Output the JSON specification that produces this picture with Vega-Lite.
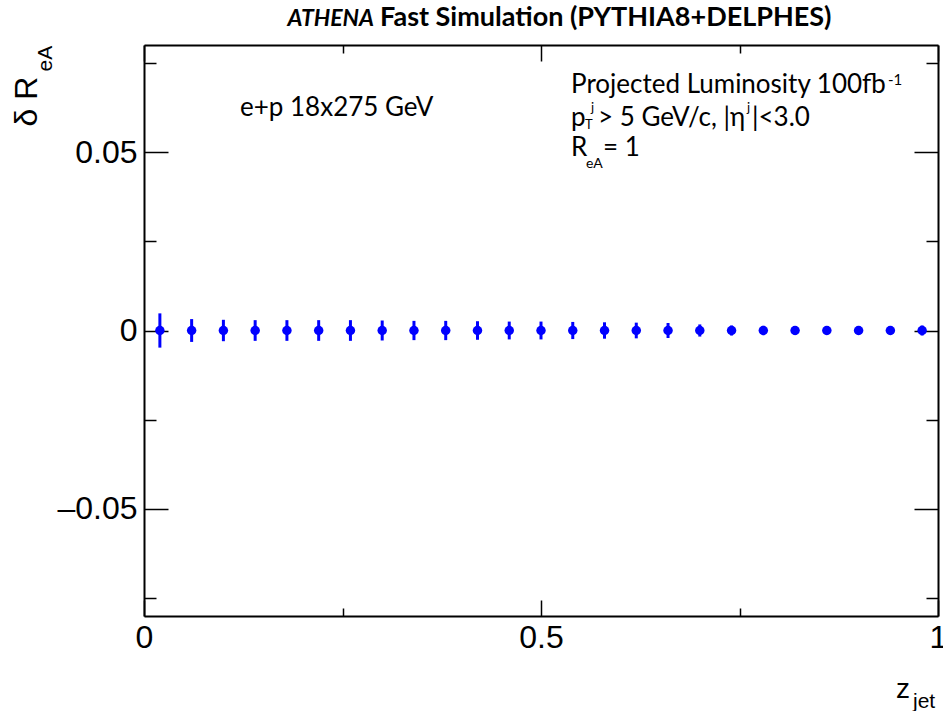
{
  "$schema": "https://vega.github.io/schema/vega-lite/v6.json",
  "width": 794,
  "height": 571,
  "autosize": "none",
  "padding": {"left": 144, "top": 45, "right": 5, "bottom": 95},
  "background": "white",
  "config": {
    "view": {"stroke": null},
    "axis": {
      "domainColor": "black",
      "domainWidth": 2,
      "tickColor": "black",
      "tickWidth": 1.5,
      "grid": false,
      "labelFont": "Liberation Sans",
      "labelFontSize": 32,
      "labelColor": "black",
      "labelFlush": false,
      "labelOverlap": false,
      "title": null,
      "zindex": 1
    }
  },
  "datasets": {
    "pts": [
      {"z": 0.02, "dR": 0, "err": 0.0048},
      {"z": 0.06, "dR": 0, "err": 0.0032},
      {"z": 0.10, "dR": 0, "err": 0.0030},
      {"z": 0.14, "dR": 0, "err": 0.0029},
      {"z": 0.18, "dR": 0, "err": 0.0029},
      {"z": 0.22, "dR": 0, "err": 0.0029},
      {"z": 0.26, "dR": 0, "err": 0.0029},
      {"z": 0.30, "dR": 0, "err": 0.0028},
      {"z": 0.34, "dR": 0, "err": 0.0027},
      {"z": 0.38, "dR": 0, "err": 0.0027},
      {"z": 0.42, "dR": 0, "err": 0.0026},
      {"z": 0.46, "dR": 0, "err": 0.0025},
      {"z": 0.50, "dR": 0, "err": 0.0025},
      {"z": 0.54, "dR": 0, "err": 0.0024},
      {"z": 0.58, "dR": 0, "err": 0.0023},
      {"z": 0.62, "dR": 0, "err": 0.0022},
      {"z": 0.66, "dR": 0, "err": 0.0021},
      {"z": 0.70, "dR": 0, "err": 0.0017},
      {"z": 0.74, "dR": 0, "err": 0.0014},
      {"z": 0.78, "dR": 0, "err": 0.0013},
      {"z": 0.82, "dR": 0, "err": 0.0012},
      {"z": 0.86, "dR": 0, "err": 0.0011},
      {"z": 0.90, "dR": 0, "err": 0.0011},
      {"z": 0.94, "dR": 0, "err": 0.0011},
      {"z": 0.98, "dR": 0, "err": 0.0014}
    ]
  },
  "resolve": {"axis": {"x": "independent", "y": "independent"}},
  "layer": [
    {
      "data": {"name": "pts"},
      "mark": {"type": "errorbar", "rule": {"stroke": "#0000ff", "strokeWidth": 3}},
      "encoding": {
        "x": {"field": "z", "type": "quantitative", "scale": {"domain": [0, 1], "nice": false, "zero": false},
          "axis": {"orient": "top", "values": [0, 0.25, 0.5, 0.75, 1], "labels": false,
            "tickSize": {"condition": {"test": "abs(datum.value*2 - round(datum.value*2)) < 0.001", "value": -16}, "value": -8}}},
        "y": {"field": "dR", "type": "quantitative", "scale": {"domain": [-0.08, 0.08], "nice": false, "zero": false},
          "axis": {"orient": "right", "values": [-0.075, -0.05, -0.025, 0, 0.025, 0.05, 0.075], "labels": false,
            "tickSize": {"condition": {"test": "abs(datum.value*20 - round(datum.value*20)) < 0.001", "value": -24}, "value": -12}}},
        "yError": {"field": "err"}
      }
    },
    {
      "data": {"name": "pts"},
      "mark": {"type": "point", "filled": true, "color": "#0000ff", "size": 90, "opacity": 1},
      "encoding": {
        "x": {"field": "z", "type": "quantitative",
          "axis": {"orient": "bottom", "values": [0, 0.25, 0.5, 0.75, 1], "labelPadding": 22,
            "labelExpr": "abs(datum.value*2 - round(datum.value*2)) < 0.001 ? format(datum.value, '~g') : ''",
            "tickSize": {"condition": {"test": "abs(datum.value*2 - round(datum.value*2)) < 0.001", "value": -16}, "value": -8}}},
        "y": {"field": "dR", "type": "quantitative",
          "axis": {"orient": "left", "values": [-0.075, -0.05, -0.025, 0, 0.025, 0.05, 0.075], "labelPadding": 31,
            "labelExpr": "abs(datum.value) < 1e-9 ? '0' : (abs(datum.value*20 - round(datum.value*20)) < 0.001 ? (datum.value < 0 ? '–' : '') + format(abs(datum.value), '.2f') : '')",
            "tickSize": {"condition": {"test": "abs(datum.value*20 - round(datum.value*20)) < 0.001", "value": -24}, "value": -12}}}
      }
    },
    {
      "data": {"values": [{}]},
      "mark": {"type": "text", "text": "ATHENA", "font": "Lato", "fontSize": 23, "fontWeight": "bold", "fontStyle": "italic", "align": "right", "baseline": "alphabetic", "color": "black"},
      "encoding": {"x": {"datum": 0.2897, "type": "quantitative", "axis": null}, "y": {"datum": 0.0854, "type": "quantitative", "axis": null}}
    },
    {
      "data": {"values": [{}]},
      "mark": {"type": "text", "text": "Fast Simulation (PYTHIA8+DELPHES)", "font": "Lato", "fontSize": 27, "fontWeight": "bold", "align": "left", "baseline": "alphabetic", "color": "black"},
      "encoding": {"x": {"datum": 0.2972, "type": "quantitative", "axis": null}, "y": {"datum": 0.0854, "type": "quantitative", "axis": null}}
    },
    {
      "data": {"values": [{}]},
      "mark": {"type": "text", "text": "e+p 18x275 GeV", "font": "Lato", "fontSize": 26, "align": "left", "baseline": "alphabetic", "color": "black"},
      "encoding": {"x": {"datum": 0.1209, "type": "quantitative", "axis": null}, "y": {"datum": 0.0601, "type": "quantitative", "axis": null}}
    },
    {
      "data": {"values": [{}]},
      "mark": {"type": "text", "text": "Projected Luminosity 100fb", "font": "Lato", "fontSize": 26, "align": "left", "baseline": "alphabetic", "color": "black"},
      "encoding": {"x": {"datum": 0.5378, "type": "quantitative", "axis": null}, "y": {"datum": 0.0666, "type": "quantitative", "axis": null}}
    },
    {
      "data": {"values": [{}]},
      "mark": {"type": "text", "text": "-1", "font": "Lato", "fontSize": 15, "align": "left", "baseline": "alphabetic", "color": "black"},
      "encoding": {"x": {"datum": 0.9370, "type": "quantitative", "axis": null}, "y": {"datum": 0.0688, "type": "quantitative", "axis": null}}
    },
    {
      "data": {"values": [{}]},
      "mark": {"type": "text", "text": "p", "font": "Lato", "fontSize": 26, "align": "left", "baseline": "alphabetic", "color": "black"},
      "encoding": {"x": {"datum": 0.5378, "type": "quantitative", "axis": null}, "y": {"datum": 0.0573, "type": "quantitative", "axis": null}}
    },
    {
      "data": {"values": [{}]},
      "mark": {"type": "text", "text": "T", "font": "Lato", "fontSize": 13, "align": "left", "baseline": "alphabetic", "color": "black"},
      "encoding": {"x": {"datum": 0.5554, "type": "quantitative", "axis": null}, "y": {"datum": 0.0565, "type": "quantitative", "axis": null}}
    },
    {
      "data": {"values": [{}]},
      "mark": {"type": "text", "text": "j", "font": "Lato", "fontSize": 13, "align": "left", "baseline": "alphabetic", "color": "black"},
      "encoding": {"x": {"datum": 0.5630, "type": "quantitative", "axis": null}, "y": {"datum": 0.0612, "type": "quantitative", "axis": null}}
    },
    {
      "data": {"values": [{}]},
      "mark": {"type": "text", "text": "> 5 GeV/c, |η", "font": "Lato", "fontSize": 26, "align": "left", "baseline": "alphabetic", "color": "black"},
      "encoding": {"x": {"datum": 0.5718, "type": "quantitative", "axis": null}, "y": {"datum": 0.0573, "type": "quantitative", "axis": null}}
    },
    {
      "data": {"values": [{}]},
      "mark": {"type": "text", "text": "j", "font": "Lato", "fontSize": 13, "align": "left", "baseline": "alphabetic", "color": "black"},
      "encoding": {"x": {"datum": 0.7594, "type": "quantitative", "axis": null}, "y": {"datum": 0.0612, "type": "quantitative", "axis": null}}
    },
    {
      "data": {"values": [{}]},
      "mark": {"type": "text", "text": "|<3.0", "font": "Lato", "fontSize": 26, "align": "left", "baseline": "alphabetic", "color": "black"},
      "encoding": {"x": {"datum": 0.7657, "type": "quantitative", "axis": null}, "y": {"datum": 0.0573, "type": "quantitative", "axis": null}}
    },
    {
      "data": {"values": [{}]},
      "mark": {"type": "text", "text": "R", "font": "Lato", "fontSize": 26, "align": "left", "baseline": "alphabetic", "color": "black"},
      "encoding": {"x": {"datum": 0.5378, "type": "quantitative", "axis": null}, "y": {"datum": 0.0489, "type": "quantitative", "axis": null}}
    },
    {
      "data": {"values": [{}]},
      "mark": {"type": "text", "text": "eA", "font": "Lato", "fontSize": 14, "align": "left", "baseline": "alphabetic", "color": "black"},
      "encoding": {"x": {"datum": 0.5567, "type": "quantitative", "axis": null}, "y": {"datum": 0.0455, "type": "quantitative", "axis": null}}
    },
    {
      "data": {"values": [{}]},
      "mark": {"type": "text", "text": "= 1", "font": "Lato", "fontSize": 26, "align": "left", "baseline": "alphabetic", "color": "black"},
      "encoding": {"x": {"datum": 0.5781, "type": "quantitative", "axis": null}, "y": {"datum": 0.0489, "type": "quantitative", "axis": null}}
    },
    {
      "data": {"values": [{}]},
      "mark": {"type": "text", "text": "δ R", "font": "Liberation Sans", "fontSize": 32, "angle": 270, "align": "right", "baseline": "alphabetic", "color": "black"},
      "encoding": {"x": {"datum": -0.1348, "type": "quantitative", "axis": null}, "y": {"datum": 0.0711, "type": "quantitative", "axis": null}}
    },
    {
      "data": {"values": [{}]},
      "mark": {"type": "text", "text": "eA", "font": "Liberation Sans", "fontSize": 21, "angle": 270, "align": "right", "baseline": "alphabetic", "color": "black"},
      "encoding": {"x": {"datum": -0.1159, "type": "quantitative", "axis": null}, "y": {"datum": 0.0798, "type": "quantitative", "axis": null}}
    },
    {
      "data": {"values": [{}]},
      "mark": {"type": "text", "text": "z", "font": "Liberation Sans", "fontSize": 28, "align": "left", "baseline": "alphabetic", "color": "black"},
      "encoding": {"x": {"datum": 0.9471, "type": "quantitative", "axis": null}, "y": {"datum": -0.1031, "type": "quantitative", "axis": null}}
    },
    {
      "data": {"values": [{}]},
      "mark": {"type": "text", "text": "jet", "font": "Liberation Sans", "fontSize": 21, "align": "left", "baseline": "alphabetic", "color": "black"},
      "encoding": {"x": {"datum": 0.9685, "type": "quantitative", "axis": null}, "y": {"datum": -0.1059, "type": "quantitative", "axis": null}}
    }
  ]
}
